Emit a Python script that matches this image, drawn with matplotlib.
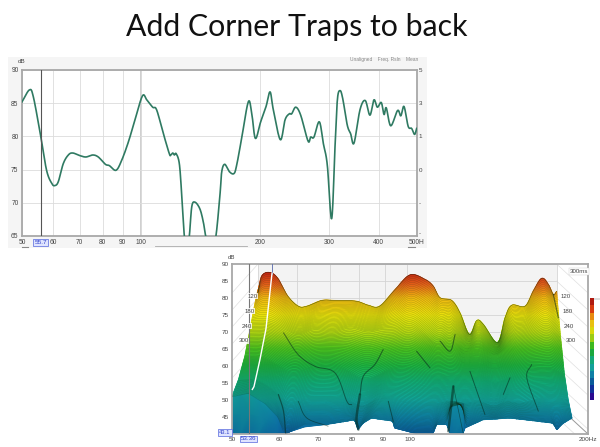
import numpy as np
import matplotlib
matplotlib.use("Agg")
import matplotlib.pyplot as plt
from matplotlib.colors import LinearSegmentedColormap, Normalize
from matplotlib.patches import Rectangle

# ---------- top chart data ----------
fr_freq = [50,52.2,53.4,55.7,57.7,59.5,60.6,61.8,63.6,65.5,67.2,70.1,72.6,75.5,78,81.3,83.2,86.5,89.4,93,96.6,
           100.9,103.5,107.1,109.6,114,118,119,120.4,121.5,122.8,125.1,126.8,128.8,130.5,132.6,134.5,137,141,143.9,145.9,
           151,154.9,158.7,160.2,163,167.4,172,174.8,179.9,187,190.8,194.9,201,207.4,212.3,216.4,225.4,231.7,237.5,240.8,
           246.6,253.8,264.9,269,274.2,282.9,289.7,296.4,304,310,314.3,319.2,324.3,333,339.6,346.4,358.6,369.8,380,389,
           396.8,406,412.6,418,429,446.5,455,463.6,475,484.6,493,499]
fr_db = [85.2,87,86,80.2,74.9,72.9,72.6,73.2,75.9,77.2,77.5,77.1,76.9,77.2,76.9,75.8,75.6,74.9,76.4,79.2,82.5,
         86.1,85.5,84.4,84,80.4,77.4,77.2,77.5,77.2,77.4,75.9,71.4,65,63,65,69.4,70.1,69.1,67.1,65,
         62,65,71.5,74.7,75.8,74.7,74.4,75.7,79.7,85.2,83.5,79.7,82.2,84.5,86.7,84,79.5,82.5,83.4,83.4,
         84.4,83.2,79.3,79.9,79.9,82.2,78.9,75.7,67.6,78.4,85.5,86.9,85.7,81.7,80.4,79,84,85.4,83.2,85.5,
         84.4,85.1,83.3,84.3,81.6,83.9,83.1,84.5,81.5,81.2,80.3,81.2]
fr_ticks = [50,60,70,80,90,100,200,300,400,500]
fr_ticklabels = ["50","60","70","80","90","100","200","300","400","500H"]
fr_yticks = [65,70,75,80,85,90]
fr_right_labels = ["-","-","0","1","3","5"]
fr_cursor = 55.7

# ---------- waterfall data (key slices: Hz, apparent dB) ----------
k0_f = [50,50.9,52.8,54.8,57.4,60.3,62.7,67.2,71.4,78.7,83.4,87.9,94.5,101.3,108.5,112.8,116.4,122.9,127.7,133.4,138,142.3,152,157.4,162.4,172.7,179.5,186.6,192.5,197,200]
k0_db = [81.6,86.5,87.5,85.8,80.6,77.6,77.6,79.3,79.3,79.1,77.9,77.6,82.5,86.8,85.5,83.5,80.1,79.3,75.7,69.3,73.4,72.3,66.9,74.2,77.9,77.6,82.1,85.8,84,81,82]
k1_f = [50,54,58,62,66,72,78,84,90,96,102,110,116,122,130,138,146,154,162,172,182,190,200]
k1_db = [73,73,71,69,71,70,71.5,70,71,71,73,69,66,69,64,66,63,64,68,69,71,72,68]
k2_f = [50,54,58,62,66,72,78,84,90,96,102,110,116,122,130,138,146,154,162,172,182,190,200]
k2_db = [63,63,60,58,60,61,59,56,58,60,60,58,57,58,57,58,55,56,58,60,59,60,57]
k3_f = [50,54,58,62,66,72,78,84,90,96,102,110,116,122,130,138,146,154,162,172,182,190,200]
k3_db = [56,56,53,49,51,51,51,48,51,51,50,49,49,50,49,50,48,50,49,50,51,51,50]
k4_f = [50,53.4,57.2,60.3,61.6,62.4,64.6,67.2,74,82.5,83.5,85.3,88.3,96.3,97,105.5,113.5,115,120,121.6,128.3,129.3,139,155,185,188,193,200]
k4_db = [51,52,49,45,41,40.3,41.5,43,43,44.3,41.4,43.3,44.8,43.9,41.9,40.4,40.4,42.9,42.9,48,49,41.9,44.3,44.8,43.3,41.4,43.3,44.8]
key_depths = [0,0.25,0.5,0.75,1.0]
floor_f = [50,61.6,67.2,74,82.5,83.5,85.3,88.3,96.3,97,105.5,113.5,115,120,121.6,128.3,129.3,139,155,185,188,193,200]
floor_db = [40.2,40.2,42.2,43,44.3,41.4,43.3,44.8,43.9,41.9,40.3,40.3,42.9,42.9,40.3,40.3,41.9,44.3,44.8,43.3,41.4,43.3,44.8]

streaks = [
    ([61.1,64.7,69,74.7,78.2,79.7],[69.8,63.4,60,58,49.7,48.7],0.7),
    ([90.1,87.2,83.4,82.3],[64.9,60.5,57.1,51.7],0.8),
    ([59.9,61.1,61.6],[51.7,46.8,40.4],0.9),
    ([64.7,66.9,72.7],[49.7,44.8,42.4],0.6),
    ([82.3,81.2,81.8],[51.7,44.8,41.4],1.8),
    ([91.9,93.7],[49.7,43.8],0.7),
    ([112.4,116.9,119.2],[67.4,64.4,69.3],0.8),
    ([102.6,108.1],[64.4,59.5],0.8),
    ([118.4,116.1],[54.1,40.9],1.8),
    ([118.4,123],[54.1,40.4],0.5),
    ([126.3,133.9],[58.5,45.8],0.7),
    ([147.6,143.8],[56.6,51.7],0.7),
    ([160.6,157.6,164.8],[60.5,56.6,46.8],0.7),
    ([174.7,178.2],[81.1,74.2],0.9),
]
cursor_freq = 53.36
wf_ticks = [50,60,70,80,90,100,200]
wf_ticklabels = ["50","60","70","80","90","100","200Hz"]
wf_yticks = [45,50,55,60,65,70,75,80,85,90]
time_labels = ["120","180","240","300"]
time_depths = [0.4,0.6,0.8,1.0]
cmap_db = [40,45,50,55,60,65,70,75,80,84,88]
cmap_col = ["#0a5a9a","#0f84a8","#12a89e","#12b07c","#1eb442","#4cc420","#b8d812","#ece20c","#f0b810","#e4601a","#c01c10"]
bar_cols = ["#b01a10","#d83a10","#e88a10","#e8c010","#d8d80c","#9ccc14","#3db81e","#1aa83e","#12a878","#12a09a","#0f7fa5","#0a5a9a","#10309a","#2a0a90"]

W, H = 600, 447
plt.rcParams["font.family"] = ["Liberation Sans", "DejaVu Sans"]
fig = plt.figure(figsize=(W/100, H/100), dpi=100, facecolor="white")

def box(l, t, r, b):
    return [l/W, 1-b/H, (r-l)/W, (b-t)/H]

def curve(xs, ys, n=12, log=True):
    """Catmull-Rom drawing path through the read points."""
    x = np.log(np.asarray(xs,float)) if log else np.asarray(xs,float)
    y = np.asarray(ys,float)
    px = np.r_[2*x[0]-x[1],x,2*x[-1]-x[-2]]
    py = np.r_[2*y[0]-y[1],y,2*y[-1]-y[-2]]
    t = np.linspace(0,1,n,endpoint=False)[:,None]
    def seg(p):
        a,b,c,d = p[:-3],p[1:-2],p[2:-1],p[3:]
        return (0.5*(2*b+(c-a)*t+(2*a-5*b+4*c-d)*t**2+(3*b-a-3*c+d)*t**3)).T.ravel()
    ox,oy = np.r_[seg(px),x[-1]],np.r_[seg(py),y[-1]]
    return (np.exp(ox) if log else ox),oy

bg = fig.add_axes([0,0,1,1]); bg.set_xlim(0,W); bg.set_ylim(H,0); bg.axis("off")
bg.add_patch(Rectangle((8,57),419,191,fc="#f5f5f5",ec="none"))
bg.add_patch(Rectangle((592,298),8,2,fc="#dddddd",ec="none"))
bg.text(297,27,"Add Corner Traps to back",ha="center",va="center",fontsize=21.8,family="Lato",color="#111111")
bg.text(350,59,"Unaligned    Freq. Rsln    Mean",fontsize=3.5,color="#888888",va="center")
bg.plot([155,247],[246,246],color="#aaaaaa",lw=0.6)
bg.plot([22,28],[247,247],color="#888888",lw=0.8)
bg.plot([408,415],[247,247],color="#888888",lw=0.8)

# ---------- top chart ----------
ax = fig.add_axes(box(22,70,417,236))
ax.set_xscale("log"); ax.set_xlim(50,500); ax.set_ylim(65,90)
ax.set_xticks(fr_ticks); ax.set_xticklabels(fr_ticklabels); ax.minorticks_off()
ax.set_yticks(fr_yticks)
ax.grid(True,color="#dcdcdc",lw=0.6)
ax.axvline(100,color="#cccccc",lw=1.3,zorder=1)
cx,cy = curve(fr_freq,fr_db)
ax.plot(cx,cy,color="#2f7a62",lw=1.2,zorder=3)
ax.axvline(fr_cursor,color="#555555",lw=0.8,zorder=4)
ax.tick_params(axis="x",length=0,labelsize=4.8,labelcolor="#444444",pad=2.5)
ax.tick_params(axis="y",length=0,labelsize=4.8,labelcolor="#444444",pad=2.5)
for s in ax.spines.values():
    s.set_color("#a8a8a8"); s.set_linewidth(1.3)
ax2 = ax.twinx(); ax2.set_ylim(65,90); ax2.set_yticks(fr_yticks); ax2.set_yticklabels(fr_right_labels)
ax2.tick_params(length=0,labelsize=4.5,labelcolor="#444444",pad=1)
ax2.get_yticklabels()[0].set_verticalalignment("bottom")
for s in ax2.spines.values(): s.set_visible(False)
ax.text(0,1.04,"dB",transform=ax.transAxes,ha="center",fontsize=4.5,color="#444444")
ax.annotate(f"{fr_cursor:g}",(fr_cursor,65),xytext=(0,-4.5),textcoords="offset points",ha="center",va="center",
            fontsize=4.6,color="#3344cc",bbox=dict(fc="#dfe4ff",ec="#5566dd",lw=0.5,pad=0.6),annotation_clip=False)

# ---------- waterfall ----------
wx = fig.add_axes(box(232,264,588,434))
wx.set_xscale("log"); wx.set_xlim(50,200); wx.set_ylim(40.1,90)
wx.set_xticks(wf_ticks); wx.set_xticklabels(wf_ticklabels); wx.minorticks_off()
wx.set_yticks(wf_yticks)
wx.tick_params(length=0,labelsize=4.6,labelcolor="#444444",pad=2)
for s in wx.spines.values():
    s.set_color("#a8a8a8"); s.set_linewidth(1.3)

# depth projection: the back plane is narrower than the front plane
def project(f, depth):
    u = np.log2(np.asarray(f,float)/50)
    px = (258-26*depth) + (149.3+20.7*depth)*u
    return 50*2**((px-232)/178)

DROP = 8.5
bl, br = project(50,0), project(200,0)
wx.fill_between([bl,br],[48.6,48.6],[90,90],color="#f3f3f3",zorder=0,lw=0)
for y in wf_yticks:
    wx.plot([bl,br],[y,y],color="#d4d4d4",lw=0.6,zorder=1)
    wx.plot([50,bl],[y-DROP,y],color="#e0e0e0",lw=0.5,zorder=1)
    wx.plot([br,200],[y,y-DROP],color="#e0e0e0",lw=0.5,zorder=1)
for t in wf_ticks:
    q = project(t,0)
    wx.plot([q,q],[48.6,90],color="#d4d4d4",lw=0.6,zorder=1)
wx.plot([bl,50],[48.6,40.1],color="#bbbbbb",lw=0.5,zorder=1)
wx.plot([br,200],[48.6,40.1],color="#999999",lw=0.7,zorder=1)

grid_f = np.geomspace(50,200,360)
def key_row(fs, dbs, smooth=True):
    if smooth:
        a,b = curve(fs,dbs)
        return np.interp(grid_f,a,b)
    return np.interp(grid_f,fs,dbs)
keys = np.array([key_row(k0_f,k0_db),key_row(k1_f,k1_db),key_row(k2_f,k2_db),key_row(k3_f,k3_db),key_row(k4_f,k4_db,False)])
depths = np.linspace(0,1,100)
surf = np.array([[np.interp(d,key_depths,keys[:,j]) for j in range(len(grid_f))] for d in depths])
# soften the mid slices along frequency so lines stay gently wavy
for i in range(1,len(depths)-1):
    w = int(3+14*np.sin(np.pi*depths[i]))
    k = np.hanning(2*w+3)[1:-1]; k /= k.sum()
    pad = np.pad(surf[i],w,mode="edge")
    surf[i] = np.convolve(pad,k,mode="valid")
floor = np.interp(grid_f,floor_f,floor_db)
X = np.vstack([project(grid_f,d) for d in depths]+[project(grid_f,1.0)])
Y = np.vstack([surf,floor])
cm = LinearSegmentedColormap.from_list("wf",[((d-40)/48,c) for d,c in zip(cmap_db,cmap_col)])
norm = Normalize(40,88)
wx.pcolormesh(X,Y,np.clip(Y,40,88),cmap=cm,norm=norm,shading="gouraud",zorder=2)
for i in range(len(depths)):
    wx.plot(X[i],Y[i],color="#0b2a12",lw=0.3,alpha=0.3 if i else 0.9,zorder=3)
for sf,sd,lw in streaks:
    a,b = curve(sf,sd) if len(sf)>2 else (sf,sd)
    wx.plot(a,b,color="#06281c",lw=lw,alpha=0.55,zorder=4,solid_capstyle="round")

# cursor: dark line and white slice trace
wx.axvline(cursor_freq,color="#777777",lw=0.8,zorder=5)
q0 = project(cursor_freq,0)
wx.plot([q0,q0],[87,90],color="#5566aa",lw=0.6,zorder=5)
cd = depths[depths<=0.82]
wx.plot(project(cursor_freq,cd),[np.interp(d,key_depths,[87.3,71,62,54,51]) for d in cd],color="white",lw=1.0,zorder=6)
wx.annotate(f"{cursor_freq:g}",(cursor_freq,40.1),xytext=(0,-3.5),textcoords="offset points",ha="center",va="center",
            fontsize=4.4,color="#3344cc",bbox=dict(fc="#dfe4ff",ec="#5566dd",lw=0.5,pad=0.6),annotation_clip=False)
wx.annotate("43.1",(50,40.1),xytext=(-5,1),textcoords="offset points",ha="center",va="center",fontsize=4.2,color="#3344cc",
            bbox=dict(fc="#dfe4ff",ec="#5566dd",lw=0.5,pad=0.6),annotation_clip=False)
wx.text(0,1.03,"dB",transform=wx.transAxes,ha="center",fontsize=4.4,color="#444444")
for lab,d in zip(time_labels,time_depths):
    yy = 80.6-(d-0.4)/0.6*13.2
    wx.text(project(50,d*0.55),yy,lab,fontsize=4.4,color="#444444",ha="center",va="center",zorder=7,
            bbox=dict(fc="white",ec="none",pad=0.3,alpha=0.8))
    wx.text(project(200,d*0.62)*1.02,yy,lab,fontsize=4.4,color="#444444",ha="center",va="center",zorder=7)
wx.text(0.975,0.955,"300ms",transform=wx.transAxes,fontsize=4.4,color="#444444",ha="center",va="center",
        bbox=dict(fc="white",ec="#cccccc",lw=0.3,pad=0.6))

# colour scale
cb = fig.add_axes(box(590,298,594,400)); cb.axis("off")
cb.imshow(np.arange(len(bar_cols))[:,None],aspect="auto",
          cmap=LinearSegmentedColormap.from_list("b",bar_cols,N=len(bar_cols)))

fig.savefig("out.png",dpi=100)
